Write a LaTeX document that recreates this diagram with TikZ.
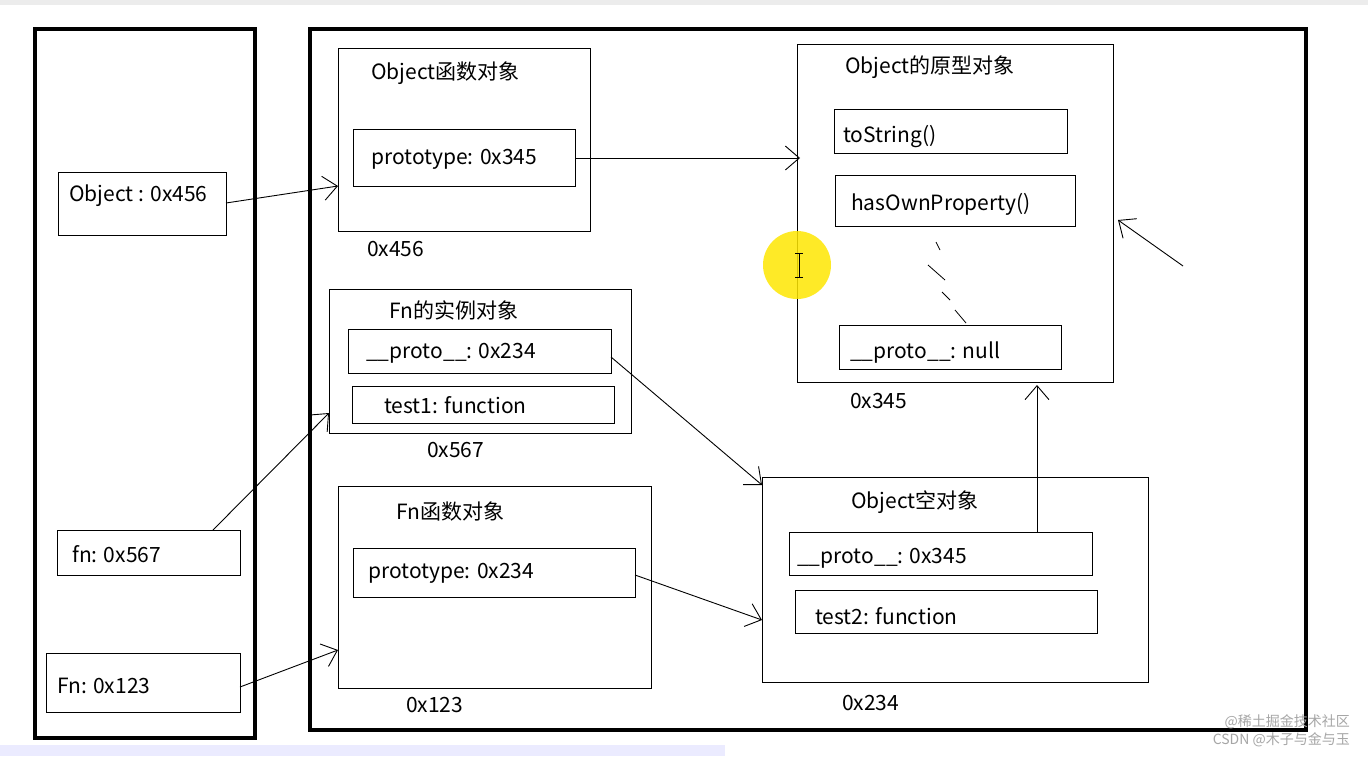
\documentclass[tikz,border=0pt]{standalone}
\usepackage{fontspec}
\setmainfont{Noto Sans CJK SC}
\usetikzlibrary{arrows.meta}
\begin{document}
\begin{tikzpicture}[x=1pt,y=-1pt,
  frame/.style={draw=black,line width=3.5pt},
  obj/.style={draw=black,line width=1pt},
  txt/.style={font=\fontsize{21}{24}\selectfont,inner sep=0pt,anchor=west},
  arr/.style={line width=0.9pt,-{Straight Barb[length=14pt,width=24pt,line width=0.9pt]}}]
\useasboundingbox (0,0) rectangle (1368,756);
\fill[white] (0,0) rectangle (1368,756);
\fill[gray!15] (0,0) rectangle (1368,5);
\fill[blue!8] (0,745) rectangle (725,756);
% frames
\draw[frame] (35,29) rectangle (255,738);
\draw[frame] (310,29) rectangle (1306,730);
% left boxes
\draw[obj] (58,172) rectangle (226,235);
\node[txt] (vObj) at (69,196) {Object : 0x456};
\coordinate (vObjR) at (226,203);
\draw[obj] (57,530) rectangle (240,575);
\node[txt] (vfn) at (72,554) {fn: 0x567};
\coordinate (vfnT) at (213,530);
\draw[obj] (46,653) rectangle (240,712);
\node[txt] (vFn) at (57,686) {Fn: 0x123};
\coordinate (vFnR) at (240,687);
% Object function object
\draw[obj] (338,48) rectangle (590,231);
\node[txt] (t1) at (371,73) {Object函数对象};
\draw[obj] (353,129) rectangle (575,186);
\node[txt] (p1) at (371,159) {prototype: 0x345};
\node[txt] (a1) at (367,249) {0x456};
\coordinate (objIn) at (338,186);
\coordinate (p1R) at (575,158);
% Object prototype object
\draw[obj] (797,44) rectangle (1113,382);
\node[txt] (t2) at (845,67) {Object的原型对象};
\draw[obj] (834,109) rectangle (1067,153);
\node[txt] (ts) at (843,137) {toString()};
\draw[obj] (835,175) rectangle (1075,226);
\node[txt] (hp) at (851,204) {hasOwnProperty()};
\draw[obj] (839,325) rectangle (1061,369);
\node[txt] (pn) at (850,353) {\_\_proto\_\_: null};
\node[txt] (a2) at (850,401) {0x345};
\coordinate (protoIn) at (800,158);
\coordinate (protoB) at (1037,385);
% Fn instance
\draw[obj] (329,289) rectangle (631,433);
\node[txt] (t3) at (389,310) {Fn的实例对象};
\draw[obj] (348,329) rectangle (611,373);
\node[txt] (ip) at (366,353) {\_\_proto\_\_: 0x234};
\draw[obj] (352,386) rectangle (614,423);
\node[txt] (it) at (384,405) {test1: function};
\node[txt] (a3) at (427,450) {0x567};
\coordinate (instIn) at (329,413);
\coordinate (instP) at (611,357);
% Fn function object
\draw[obj] (338,486) rectangle (651,688);
\node[txt] (t4) at (396,511) {Fn函数对象};
\draw[obj] (353,548) rectangle (635,597);
\node[txt] (fp) at (368,573) {prototype: 0x234};
\node[txt] (a4) at (406,705) {0x123};
\coordinate (fnIn) at (338,650);
\coordinate (fnP) at (635,575);
% Object empty
\draw[obj] (762,477) rectangle (1148,682);
\node[txt] (t5) at (851,502) {Object空对象};
\draw[obj] (789,532) rectangle (1092,575);
\node[txt] (ep) at (797,558) {\_\_proto\_\_: 0x345};
\draw[obj] (795,590) rectangle (1097,633);
\node[txt] (et) at (815,616) {test2: function};
\node[txt] (a5) at (842,703) {0x234};
\coordinate (emIn1) at (762,485);
\coordinate (emIn2) at (762,620);
\coordinate (emT) at (1037,532);
% arrows
\draw[arr] (vObjR) -- (objIn);
\draw[arr] (p1R) -- (protoIn);
\draw[arr] (vfnT) -- (instIn);
\draw[arr] (vFnR) -- (fnIn);
\draw[arr] (instP) -- (emIn1);
\draw[arr] (fnP) -- (emIn2);
\draw[arr] (emT) -- (protoB);
\coordinate (s1) at (1183,266); \coordinate (s2) at (1118,220);
\draw[arr] (s1) -- (s2);
% squiggles
\draw[line width=0.8pt] (936,242) -- (940,250) (928,265) -- (945,280) (942,292) -- (950,300) (955,310) -- (966,323);
% cursor highlight
\fill[yellow!90!orange,opacity=0.85] (797,265) circle (34);
\draw[line width=0.8pt] (799,253) -- (799,277) (795,253) -- (803,253) (795,277) -- (803,277);
% watermark
\node[font=\fontsize{14}{16}\selectfont,text=gray!70,anchor=east,inner sep=0pt] (w1) at (1350,722) {@稀土掘金技术社区};
\node[font=\fontsize{14}{16}\selectfont,text=gray!70,anchor=east,inner sep=0pt] (w2) at (1350,740) {CSDN @木子与金与玉};
\end{tikzpicture}
\end{document}
